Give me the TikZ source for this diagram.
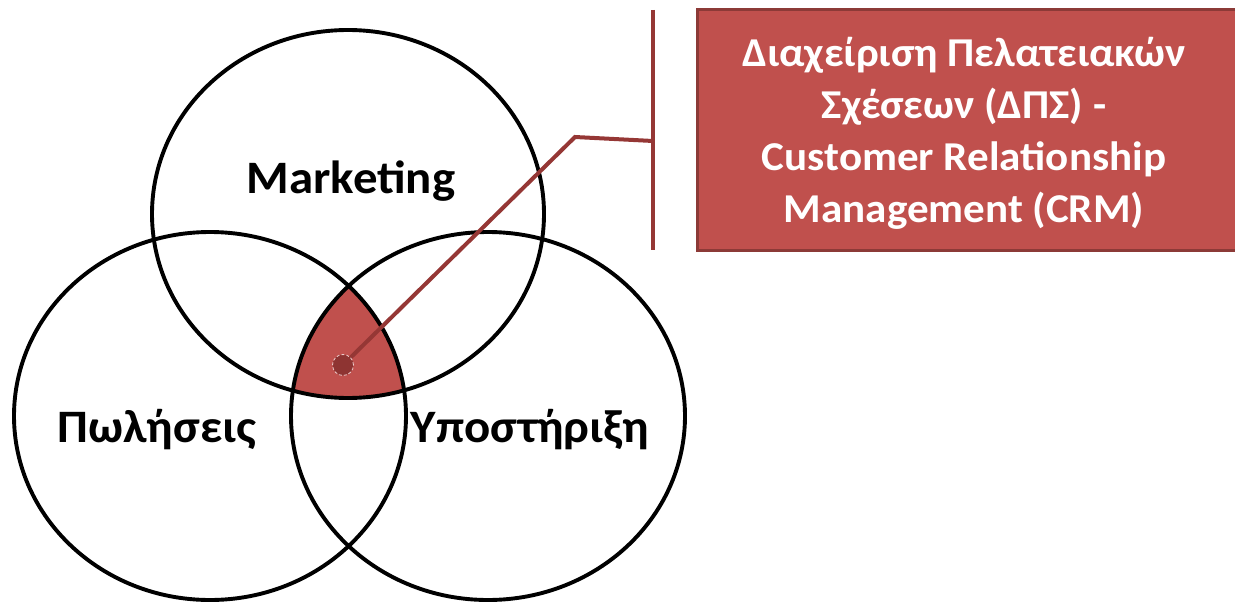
\documentclass[tikz,border=0pt]{standalone}
\usepackage{fontspec}
\setmainfont{Carlito}[FakeStretch=1.05]
\usetikzlibrary{shapes.geometric}
\definecolor{crmred}{HTML}{C0504D}
\definecolor{crmdark}{HTML}{8C3A37}
\definecolor{linered}{HTML}{953735}
\definecolor{dotred}{HTML}{8E3432}
\tikzset{
  venn/.style={ellipse, draw=black, line width=3.9pt, inner sep=0pt,
    minimum width=392pt, minimum height=368pt},
  vennlabel/.style={font=\fontsize{46.5}{54}\selectfont\bfseries, text=black},
  callout/.style={draw=linered, line width=4pt},
}
\begin{document}
\begin{tikzpicture}[x=1pt,y=-1pt]
\useasboundingbox (0,0) rectangle (1235,602);
% intersection fill
\begin{scope}
  \clip (348,214) ellipse [x radius=196, y radius=184];
  \clip (210,416) ellipse [x radius=196, y radius=184];
  \fill[crmred] (488,416) ellipse [x radius=197, y radius=184];
\end{scope}
\node[venn] (mkt) at (348,214) {};
\node[venn] (sales) at (210,416) {};
\node[venn, minimum width=394pt] (supp) at (488,416) {};
\node[vennlabel] (lmkt) at (351,181) {Marketing};
\node[vennlabel] (lsales) at (157,430) {Πωλήσεις};
\node[vennlabel] (lsupp) at (530,430) {Υποστήριξη};
% callout
\coordinate (vtop) at (653,10);
\coordinate (vbot) at (653,250);
\coordinate (vmid) at (653,141);
\coordinate (bend) at (575,137);
\coordinate (dotc) at (343,365);
\draw[callout] (vtop) -- (vbot);
\draw[callout] (vmid) -- (bend) -- (dotc);
\node[circle, fill=dotred, draw=white!70!crmred, densely dashed, line width=0.8pt, minimum size=21pt, inner sep=0pt] (dot) at (dotc) {};
% box (runs past the right edge of the picture)
\node[draw=crmdark, fill=crmred, line width=3pt, minimum width=550pt, minimum height=241pt,
  inner sep=0pt, anchor=west] (crm) at (696,130) {};
\node[text=white, align=center, font=\fontsize{41}{52}\selectfont\bfseries] (crmtext) at (964,133)
  {Διαχείριση Πελατειακών\\Σχέσεων (ΔΠΣ) -\\Customer Relationship\\Management (CRM)};
\end{tikzpicture}
\end{document}
